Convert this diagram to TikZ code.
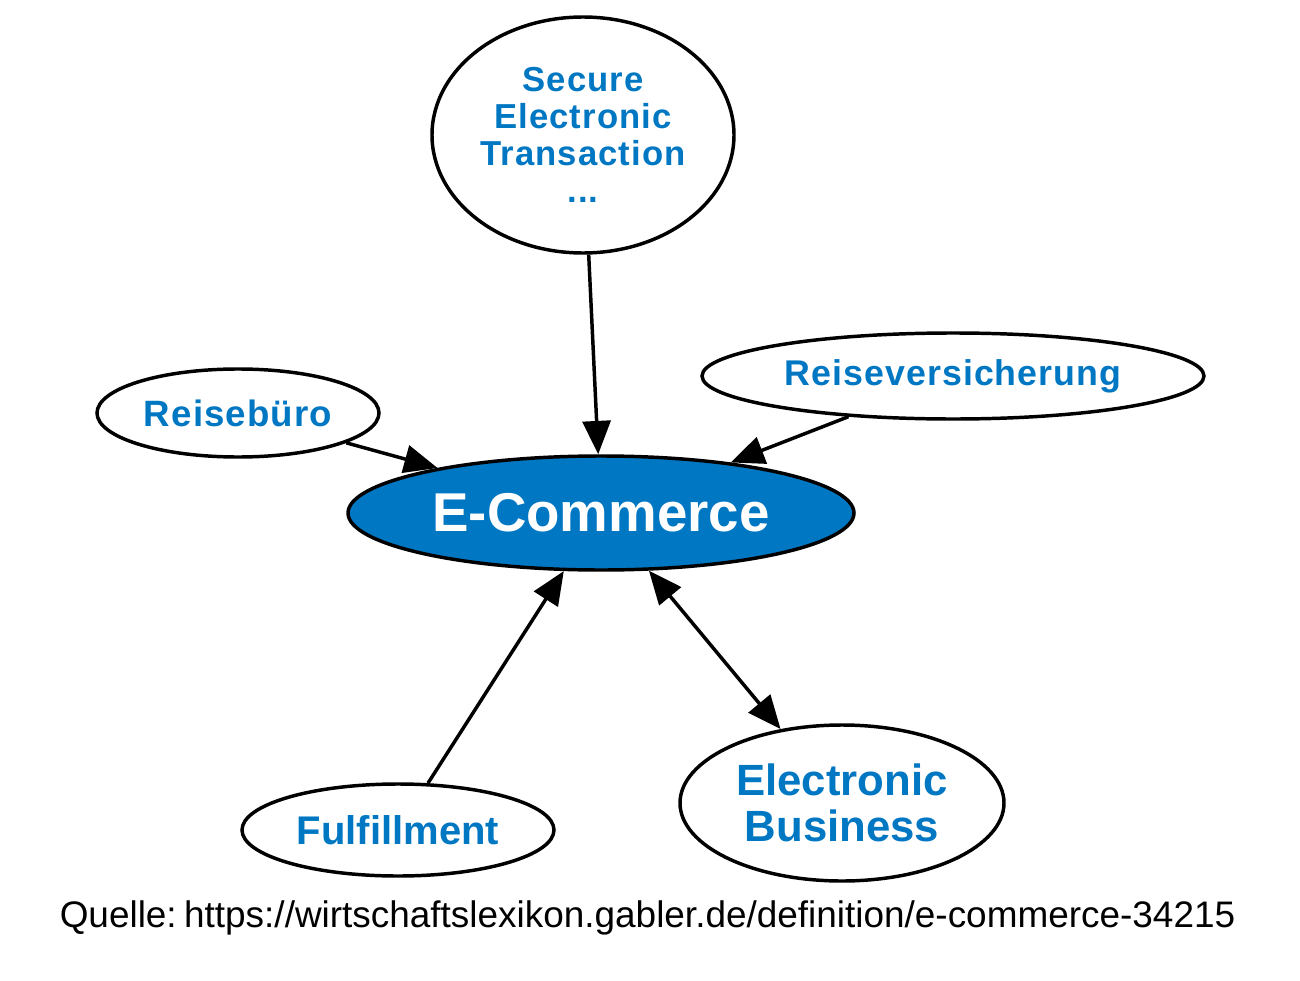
\documentclass[tikz,border=0pt]{standalone}
\usepackage{fontspec}
\setmainfont{Liberation Sans}
\newfontfamily\spfont{Liberation Sans}[LetterSpace=3]
\usetikzlibrary{shapes.geometric,arrows.meta}
\definecolor{gblue}{RGB}{0,119,194}
\tikzset{
  bub/.style={ellipse, draw=black, line width=2.6pt, fill=white, inner sep=0pt,
    text=gblue, font=\bfseries, align=center},
  edge/.style={line width=2.6pt, -{Triangle[length=25pt,width=21pt]}},
  bedge/.style={line width=2.6pt, {Triangle[length=25pt,width=21pt]}-{Triangle[length=25pt,width=21pt]}}
}
\begin{document}
\begin{tikzpicture}[x=0.75pt,y=-0.75pt]
\useasboundingbox[fill=white] (0,0) rectangle (1300,981);
\node[bub, minimum width=226.5pt, minimum height=177pt,
  font=\spfont\bfseries\fontsize{26}{27.75}\selectfont] (sec) at (583,135)
  {Secure\\Electronic\\Transaction\\...};
\node[bub, minimum width=376.5pt, minimum height=64.5pt,
  font=\spfont\bfseries\fontsize{26.8}{30}\selectfont] (rv) at (953,376) {Reiseversicherung};
\node[bub, minimum width=211.5pt, minimum height=66pt,
  font=\spfont\bfseries\fontsize{27.5}{30}\selectfont] (rb) at (238,413) {Reisebüro};
\node[bub, fill=gblue, text=white, minimum width=379.5pt, minimum height=85.5pt,
  font=\bfseries\fontsize{41}{45}\selectfont] (ec) at (601,513) {E-Commerce};
\node[bub, minimum width=234pt, minimum height=69pt,
  font=\bfseries\fontsize{30}{33}\selectfont] (ff) at (398,830) {Fulfillment};
\node[bub, minimum width=243pt, minimum height=117pt,
  font=\bfseries\fontsize{32.8}{35}\selectfont] (eb) at (842,803) {Electronic\\Business};
\node[font=\fontsize{27.7}{30}\selectfont, inner sep=0pt] (src) at (647.5,918)
  {Quelle:\hspace{0.2em}https://wirtschaftslexikon.gabler.de/definition/e-commerce-34215};
\draw[edge] (sec) -- (ec);
\draw[edge] (rb) -- (ec);
\draw[edge] (rv) -- (ec);
\draw[edge] (ff) -- (ec);
\draw[bedge] (ec) -- (eb);
\end{tikzpicture}
\end{document}
